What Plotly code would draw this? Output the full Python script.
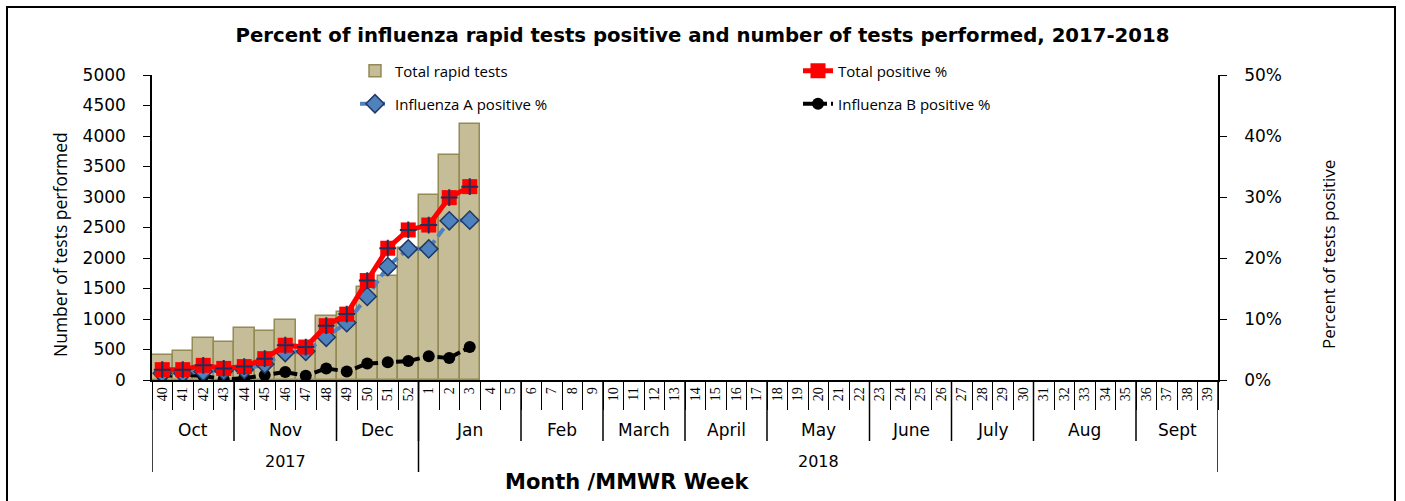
import plotly.graph_objects as go

# ---------------- data ----------------
weeks = [str(w) for w in list(range(40, 53)) + list(range(1, 40))]
total_tests = [410, 481, 694, 628, 852, 808, 984, 540, 1054, 1109, 1530, 1705, 2160, 3033, 3689, 4191]
total_pos = [1.7, 1.7, 2.4, 1.9, 2.2, 3.5, 5.7, 5.4, 8.9, 10.8, 16.3, 21.6, 24.6, 25.4, 29.9, 31.7]
flu_a_pos = [1.1, 1.1, 1.4, 1.5, 1.7, 2.6, 4.5, 4.7, 7.0, 9.4, 13.7, 18.6, 21.5, 21.5, 26.1, 26.2]
flu_b_pos = [0.7, 0.8, 0.7, 0.1, 0.3, 0.8, 1.3, 0.7, 1.9, 1.4, 2.7, 2.9, 3.1, 3.9, 3.6, 5.4]
months = ["Oct", "Nov", "Dec", "Jan", "Feb", "March", "April", "May", "June", "July", "Aug", "Sept"]
month_weeks = [4, 5, 4, 5, 4, 4, 4, 5, 4, 4, 5, 4]
years = ["2017", "2018"]
year_weeks = [13, 39]

# ---------------- layout constants ----------------
W, H = 1405, 501
ML, MR, MT, MB = 152, 187, 75, 121
PW, PH = W - ML - MR, H - MT - MB

def px_x(p):
    return (p - ML) / PW

def px_y(p):
    return (H - MB - p) / PH

SANS = "DejaVu Sans"
TXT = "Open Sans"
SERIF = "Liberation Serif"

x_data = weeks[:len(total_tests)]

fig = go.Figure()
fig.add_trace(go.Bar(
    x=x_data, y=total_tests, name="Total rapid tests",
    marker=dict(color="#C4BD97", line=dict(color="#948A54", width=1.5)),
    legend="legend", legendrank=1, yaxis="y",
))
fig.add_trace(go.Scatter(
    x=x_data, y=flu_b_pos, name="Influenza B positive %", mode="lines+markers",
    line=dict(color="black", width=4, dash="10px,4px"),
    marker=dict(symbol="circle", size=12, color="black"),
    legend="legend2", legendrank=2, yaxis="y2",
))
fig.add_trace(go.Scatter(
    x=x_data, y=flu_a_pos, name="Influenza A positive %", mode="lines+markers",
    line=dict(color="#4F81BD", width=4, dash="10px,5px"),
    marker=dict(symbol="diamond", size=14, color="#4F81BD", line=dict(color="#1F3864", width=1.5)),
    legend="legend2", legendrank=1, yaxis="y2",
))
fig.add_trace(go.Scatter(
    x=x_data, y=total_pos, name="Total positive %", mode="lines+markers",
    line=dict(color="#FF0000", width=5),
    marker=dict(symbol="square", size=15, color="#FF0000"),
    legend="legend", legendrank=2, yaxis="y2",
))
fig.add_trace(go.Scatter(
    x=x_data, y=total_pos, mode="markers", showlegend=False, hoverinfo="skip",
    marker=dict(symbol="cross-thin", size=12, color="#1F2D5A", line=dict(color="#1F2D5A", width=2)),
    yaxis="y2",
))

shapes = []
annotations = []

# month dividers and labels
idx = 0
for m, n in zip(months, month_weeks):
    start = idx
    idx += n
    annotations.append(dict(x=(start + idx - 1) / 2, y=px_y(430), xref="x", yref="paper",
                            text=m, showarrow=False, font=dict(family=SANS, size=17, color="black"),
                            xanchor="center", yanchor="middle"))
    if idx < len(weeks):
        shapes.append(dict(type="line", xref="x", yref="paper", x0=idx - 0.5, x1=idx - 0.5,
                           y0=0, y1=px_y(441), line=dict(color="black", width=1.5)))

idx = 0
for yv, n in zip(years, year_weeks):
    start = idx
    idx += n
    annotations.append(dict(x=(start + idx - 1) / 2, y=px_y(461), xref="x", yref="paper",
                            text=yv, showarrow=False, font=dict(family=SANS, size=16, color="black"),
                            xanchor="center", yanchor="middle"))
for b in [0, year_weeks[0], len(weeks)]:
    shapes.append(dict(type="line", xref="x", yref="paper", x0=b - 0.5, x1=b - 0.5,
                       y0=0, y1=px_y(472), line=dict(color="black", width=1.5)))

# outer frame
shapes.append(dict(type="rect", xref="paper", yref="paper",
                   x0=px_x(7), x1=px_x(1395), y0=px_y(505), y1=px_y(7),
                   line=dict(color="black", width=2), fillcolor="rgba(0,0,0,0)", layer="below"))

annotations += [
    dict(x=px_x(627), y=px_y(482), xref="paper", yref="paper", text="<b>Month /MMWR Week</b>",
         showarrow=False, font=dict(family=SANS, size=21, color="black"), xanchor="center", yanchor="middle"),
    dict(x=px_x(60), y=px_y(245), xref="paper", yref="paper", text="Number of tests performed",
         textangle=-90, showarrow=False, font=dict(family=TXT, size=17.5, color="black"),
         xanchor="center", yanchor="middle"),
    dict(x=px_x(1328), y=px_y(255), xref="paper", yref="paper", text="Percent of tests positive",
         textangle=-90, showarrow=False, font=dict(family=TXT, size=17, color="black"),
         xanchor="center", yanchor="middle"),
]

fig.update_layout(
    width=W, height=H,
    margin=dict(l=ML, r=MR, t=MT, b=MB),
    paper_bgcolor="white", plot_bgcolor="white",
    bargap=0,
    title=dict(text="<b>Percent of influenza rapid tests positive and number of tests performed, 2017-2018</b>",
               x=0.5, xanchor="center", y=1 - 35 / H, yanchor="middle",
               font=dict(family=SANS, size=19.7, color="black")),
    xaxis=dict(type="category", categoryorder="array", categoryarray=weeks, range=[-0.5, len(weeks) - 0.5],
               showline=True, linecolor="black", linewidth=1.5, ticks="outside", tickson="boundaries",
               ticklen=28, tickcolor="black", tickwidth=1, tickangle=-90, ticklabelstandoff=0,
               tickfont=dict(family=SERIF, size=14, color="black"), showgrid=False, zeroline=False),
    yaxis=dict(range=[0, 5000], dtick=500, showline=True, linecolor="black", linewidth=1.5,
               ticks="outside", ticklen=7, tickcolor="black", showgrid=False, zeroline=False,
               ticklabelstandoff=14, tickfont=dict(family=SANS, size=17, color="black")),
    yaxis2=dict(range=[0, 50], dtick=10, ticksuffix="%", overlaying="y", side="right",
                showline=True, linecolor="black", linewidth=1.5, ticks="outside", ticklen=7,
                tickcolor="black", showgrid=False, zeroline=False, ticklabelstandoff=14,
                tickfont=dict(family=SANS, size=17, color="black")),
    legend=dict(orientation="h", x=px_x(355), y=px_y(71), xanchor="left", yanchor="middle",
                entrywidth=398, entrywidthmode="pixels", bgcolor="rgba(0,0,0,0)",
                font=dict(family=TXT, size=15, color="black"), traceorder="normal"),
    legend2=dict(orientation="h", x=px_x(355), y=px_y(104), xanchor="left", yanchor="middle",
                 entrywidth=398, entrywidthmode="pixels", bgcolor="rgba(0,0,0,0)",
                 font=dict(family=TXT, size=15, color="black"), traceorder="normal"),
    shapes=shapes, annotations=annotations,
    showlegend=True,
)

fig.write_html("out.html", config={"displayModeBar": False},
               post_script="document.body.style.margin='0';")
